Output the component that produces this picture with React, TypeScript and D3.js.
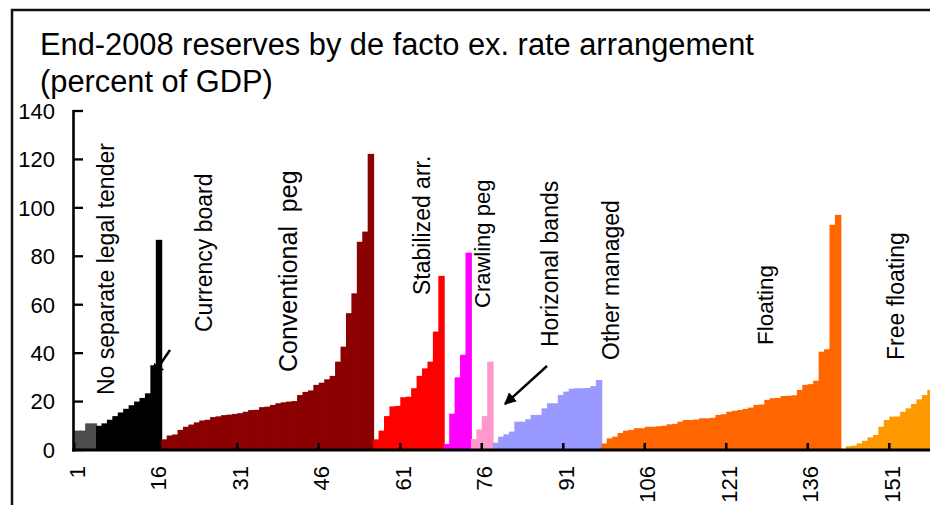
import React from "react";
import * as d3 from "d3";

// Reserves in percent of GDP, end-2008, countries sorted within each regime
const noTenderGrey = [8, 8, 11, 11];
const noTender = [10, 11, 12.5, 14, 15.5, 17, 18.5, 20, 21.5, 23.4, 35, 86.8];
const conventionalPeg = [
  4.4, 6, 6.4, 8.3, 9.6, 10.5, 11.4, 12.2, 12.5, 13.6, 13.9, 14.4, 14.6, 14.9,
  15.2, 15.8, 16.5, 16.6, 17.7, 17.9, 18.6, 19.3, 19.7, 20, 20.2, 22.7, 24, 24.6,
  26.9, 27.8, 29.2, 30.6, 36.5, 42.7, 56.5, 64.7, 86, 90.2, 122.3,
];
const stabilized = [4.4, 8, 14, 18, 18.2, 21.8, 22, 25.5, 30.6, 33.7, 36.5, 48.9, 71.9];
const crawlingPeg = [2.5, 15, 30, 39.3, 81.5];
const horizontalBands = [4.5, 8.5, 14, 36.5];
const otherManaged = [
  3, 5.5, 6.5, 7.6, 11.7, 11.7, 12.7, 14.5, 14.5, 17.2, 19.3, 19.3, 22.7, 24.1,
  25.3, 25.5, 25.5, 25.6, 26.4, 28.9,
];
const floating = [
  2.7, 4.8, 5.5, 7, 8, 8.3, 9, 9, 9.6, 9.6, 9.8, 10, 10.6, 10.8, 11.7, 12.4,
  12.4, 12.6, 13.1, 13.1, 13.3, 14.5, 14.8, 15.8, 16.2, 16.5, 17, 17.5, 18.6,
  18.8, 20.7, 21.4, 21.5, 22.3, 22.4, 22.6, 24.8, 26.9, 27.2, 28.6, 40.6, 41.6,
  93, 97.1,
];
const freeFloating = [
  0, 1.5, 1.8, 2.75, 3.8, 5.2, 6.2, 9.6, 12.4, 13.8, 13.8, 15.8, 17.2, 19, 20.9,
  22.7, 24.8,
];

const yTicks = [0, 20, 40, 60, 80, 100, 120, 140];
const xTickLabels = [1, 16, 31, 46, 61, 76, 91, 106, 121, 136, 151];

const regimeLabels = [
  "No separate legal tender",
  "Currency board",
  "Conventional  peg",
  "Stabilized arr.",
  "Crawling peg",
  "Horizonal bands",
  "Other managed",
  "Floating",
  "Free floating",
];

// Layout for the rotated regime labels: baseline x, start y, font size
const labelLayout = [
  { x: 114, y: 395, size: 23 },
  { x: 212, y: 332, size: 23 },
  { x: 297, y: 372, size: 25 },
  { x: 430, y: 295, size: 23 },
  { x: 490, y: 308, size: 22 },
  { x: 558, y: 347, size: 23 },
  { x: 619, y: 360, size: 23 },
  { x: 773, y: 345, size: 22.5 },
  { x: 904, y: 360, size: 23 },
];

const FONT = "'Liberation Sans', Arial, Helvetica, sans-serif";

const series = [
  { values: noTenderGrey, color: "#4d4d4d" },
  { values: noTender, color: "#000000" },
  { values: conventionalPeg, color: "#8b0000" },
  { values: stabilized, color: "#ff0000" },
  { values: crawlingPeg, color: "#ff00ff" },
  { values: horizontalBands, color: "#ff99cc" },
  { values: otherManaged, color: "#9999ff" },
  { values: floating, color: "#ff6600" },
  { values: freeFloating, color: "#ff9900" },
];

type Bar = { idx: number; value: number; color: string };

const bars: Bar[] = [];
series.forEach((s) =>
  s.values.forEach((v) => bars.push({ idx: bars.length + 1, value: v, color: s.color }))
);

export default function App() {
  const W = 930;
  const H = 505;
  const left = 74.3;
  const bw = 5.433;
  const y0 = 450;

  const x = d3
    .scaleBand<number>()
    .domain(bars.map((b) => b.idx))
    .range([left, left + bars.length * bw])
    .paddingInner(0)
    .paddingOuter(0);

  const y = d3.scaleLinear().domain([0, 140]).range([y0, 111]);

  const arrows = [
    { x1: 170, y1: 350, x2: 153, y2: 375 },
    { x1: 547, y1: 366, x2: 505, y2: 404 },
  ];

  return (
    <svg
      width={W}
      height={H}
      style={{ position: "absolute", left: 0, top: 0, background: "#fff" }}
      fontFamily={FONT}
    >
      <defs>
        <marker
          id="head"
          viewBox="0 0 10 10"
          refX="9"
          refY="5"
          markerWidth="5"
          markerHeight="5"
          orient="auto"
          markerUnits="strokeWidth"
        >
          <path d="M0,0 L10,5 L0,10 z" fill="#000" />
        </marker>
      </defs>
      <rect x={0} y={0} width={W} height={H} fill="#fff" />
      {/* outer frame */}
      <rect x={12} y={10} width={1000} height={1000} fill="none" stroke="#111" strokeWidth={2.5} />

      {/* title */}
      <text x={40} y={55} fontSize={30.8} fill="#000">
        End-2008 reserves by de facto ex. rate arrangement
      </text>
      <text x={40} y={92} fontSize={30.8} fill="#000">
        (percent of GDP)
      </text>

      {/* bars: each drawn a little wider so neighbours meet without seams */}
      <g>
        {bars.map((b) => (
          <rect
            key={b.idx}
            x={x(b.idx)!}
            y={y(b.value)}
            width={x.bandwidth() + 1}
            height={y(0) - y(b.value)}
            fill={b.color}
          />
        ))}
      </g>

      {/* y axis */}
      <line x1={73.5} x2={73.5} y1={y(140) - 1} y2={y0 + 1.5} stroke="#000" strokeWidth={2.6} />
      {yTicks.map((t) => (
        <g key={t}>
          <line x1={73.5} x2={83} y1={y(t)} y2={y(t)} stroke="#000" strokeWidth={2.3} />
          <text x={55} y={y(t)} dy="0.36em" textAnchor="end" fontSize={22} fill="#000">
            {t}
          </text>
        </g>
      ))}

      {/* x axis */}
      <line x1={72.2} x2={W + 10} y1={y0} y2={y0} stroke="#000" strokeWidth={3} />
      {xTickLabels.map((t) => {
        const px = x(t)!;
        const cx = px + x.bandwidth() / 2;
        return (
          <g key={t}>
            <line x1={px} x2={px} y1={y0} y2={y0 - 7} stroke="#000" strokeWidth={2.6} />
            <text
              transform={`translate(${cx},466) rotate(-90)`}
              dy="0.36em"
              textAnchor="end"
              fontSize={22}
              fill="#000"
            >
              {t}
            </text>
          </g>
        );
      })}

      {/* regime labels */}
      {regimeLabels.map((lab, i) => {
        const l = labelLayout[i];
        return (
          <text
            key={lab}
            transform={`translate(${l.x},${l.y}) rotate(-90)`}
            fontSize={l.size}
            fill="#000"
            style={{ whiteSpace: "pre" }}
          >
            {lab}
          </text>
        );
      })}

      {/* pointer arrows */}
      {arrows.map((a, i) => (
        <line
          key={i}
          x1={a.x1}
          y1={a.y1}
          x2={a.x2}
          y2={a.y2}
          stroke="#000"
          strokeWidth={2.4}
          markerEnd="url(#head)"
        />
      ))}
    </svg>
  );
}
